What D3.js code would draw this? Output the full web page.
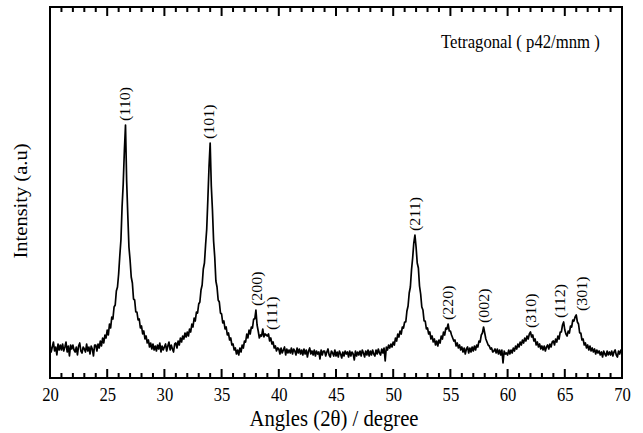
<!DOCTYPE html>
<html><head><meta charset="utf-8">
<script src="https://cdn.jsdelivr.net/npm/d3@7"></script>
<style>html,body{margin:0;padding:0;background:#fff;} svg{display:block;}</style>
</head><body><svg id="c" width="643" height="433"></svg>
<script>
// ---- data ----
const angleStart = 20, angleStep = 0.1;   // 2θ scan grid (degrees)
const intensity = [
  33,26,31,36,27,31,23,34,28,33,   // 20
  28,34,27,31,36,26,32,22,33,29,   // 21
  33,28,26,31,23,32,35,27,25,31,   // 22
  29,26,34,27,31,24,32,29,22,33,   // 23
  33,27,34,30,37,32,40,35,43,40,   // 24
  48,43,54,50,61,59,71,73,87,91,   // 25
  104,122,138,171,194,227,253,197,163,131, // 26
  118,101,95,79,78,66,66,58,59,50, // 27
  52,44,47,39,42,35,38,31,35,29,   // 28
  34,28,32,27,33,29,35,26,32,28,   // 29
  31,34,27,32,36,28,33,29,26,34,   // 30
  35,30,37,33,40,36,42,39,45,41,   // 31
  46,42,49,46,54,51,60,57,66,65,   // 32
  74,76,88,93,109,115,133,149,179,211, // 33
  235,192,168,137,121,97,91,78,76,65,  // 34
  64,55,57,49,51,43,45,38,40,33,   // 35
  34,28,30,24,28,23,30,26,33,30,   // 36
  37,36,44,40,48,44,51,50,59,59,   // 37
  68,53,47,40,43,42,49,41,44,43,   // 38
  42,44,37,40,34,36,30,32,27,30,   // 39
  29,24,30,25,28,31,23,29,25,28,   // 40
  25,30,24,29,27,23,30,25,29,24,   // 41
  28,23,29,24,28,21,27,30,24,27,   // 42
  23,28,22,27,24,26,19,28,23,27,   // 43
  27,22,26,29,23,21,27,25,22,28,   // 44
  22,26,21,27,24,20,26,22,27,24,   // 45
  26,21,27,22,26,24,18,27,22,26,   // 46
  23,27,22,28,25,21,27,23,28,22,   // 47
  27,23,28,24,22,28,24,29,25,23,   // 48
  29,25,30,17,31,28,33,30,34,31,   // 49
  36,33,40,37,44,41,47,44,51,50,   // 50
  56,56,67,72,85,91,108,120,135,143, // 51
  131,115,110,92,84,71,68,57,57,49,  // 52
  50,44,46,39,42,36,39,33,37,32,   // 53
  38,35,42,39,46,43,50,49,54,47,   // 54
  47,43,40,37,38,32,35,30,33,28,   // 55
  31,26,30,24,29,31,25,30,26,31,   // 56
  27,32,28,33,31,37,36,43,45,51,   // 57
  45,39,36,33,32,29,30,26,27,29,   // 58
  25,29,24,28,23,28,15,27,24,25,   // 59
  23,28,24,28,25,30,27,32,29,34,   // 60
  31,36,33,38,35,40,37,42,39,44,   // 61
  46,41,43,37,39,33,36,31,34,29,   // 62
  32,28,32,27,31,33,29,34,31,36,   // 63
  37,33,39,36,42,39,46,46,53,56,   // 64
  48,44,42,47,45,52,51,58,57,61,   // 65
  63,56,54,45,45,38,39,33,35,30,   // 66
  33,28,32,27,30,26,29,24,28,25,   // 67
  27,23,26,21,27,24,22,27,23,26,   // 68
  23,27,22,26,28,23,21,27,24,28,   // 69
  27                               // 70
];
const peakLabels = ["(110)","(101)","(200)","(111)","(211)","(220)","(002)","(310)","(112)","(301)"];
const peakAngles = [26.56, 33.93, 38.07, 39.4, 51.9, 54.8, 57.94, 62.0, 64.58, 66.47];
const majorTicks = [20,25,30,35,40,45,50,55,60,65,70];
const minorTicks = d3.range(20, 71, 1);
const phaseNote = "Tetragonal ( p42/mnm )";
const xTitle = "Angles (2\u03B8) / degree";
const yTitle = "Intensity (a.u)";

// ---- drawing ----
const svg = d3.select("#c");
const L = 50, R = 622, T = 7, B = 378;
const FONT = "'Liberation Serif','Times New Roman',serif";
const x = d3.scaleLinear().domain([20, 70]).range([L, R]);
const y = d3.scaleLinear().domain([0, 371]).range([B, T]);

const pts = intensity.map((v, i) => [angleStart + i * angleStep, v]);

// curve
svg.append("path")
  .datum(pts)
  .attr("fill", "none")
  .attr("stroke", "#000")
  .attr("stroke-width", 1.7)
  .attr("stroke-linejoin", "round")
  .attr("d", d3.line().x(d => x(d[0])).y(d => y(d[1])));

// inward tick marks on bottom and top edges
function tickMarks(vals, len) {
  const g = svg.append("g").attr("stroke", "#000").attr("stroke-width", 2);
  g.selectAll("line.b").data(vals).join("line").attr("class", "b")
    .attr("x1", d => x(d)).attr("x2", d => x(d))
    .attr("y1", B).attr("y2", B - len);
  g.selectAll("line.t").data(vals).join("line").attr("class", "t")
    .attr("x1", d => x(d)).attr("x2", d => x(d))
    .attr("y1", T).attr("y2", T + len);
}
tickMarks(minorTicks.filter(v => !majorTicks.includes(v)), 5);
tickMarks(majorTicks, 9);

// bottom axis labels
const bx = svg.append("g").attr("transform", `translate(0,${B})`)
  .call(d3.axisBottom(x).tickValues(majorTicks).tickSize(0).tickFormat(d3.format("d")));
bx.select(".domain").remove();
bx.selectAll("line").remove();
bx.selectAll("text").attr("font-family", FONT).attr("font-size", 18.5)
  .attr("fill", "#000").attr("dy", null).attr("y", null)
  .attr("transform", "translate(0,22.5) scale(0.9,1)");

// frame
svg.append("rect").attr("x", L).attr("y", T).attr("width", R - L).attr("height", B - T)
  .attr("fill", "none").attr("stroke", "#000").attr("stroke-width", 2);

// peak labels
peakAngles.forEach((a, k) => {
  const near = pts.filter(p => Math.abs(p[0] - a) <= 0.5);
  const top = d3.max(near, p => p[1]);
  const yb = y(top) - 4;
  svg.append("text")
    .attr("transform", `translate(${x(a)},${yb}) rotate(-90) scale(1,0.9)`)
    .attr("dy", "0.35em")
    .attr("font-family", FONT).attr("font-size", 16)
    .attr("fill", "#000")
    .text(peakLabels[k]);
});

// phase note
svg.append("text")
  .attr("transform", "translate(441,48) scale(0.88,1)")
  .attr("font-family", FONT).attr("font-size", 19).attr("fill", "#000")
  .text(phaseNote);

// axis titles
svg.append("text")
  .attr("transform", "translate(334,426) scale(0.9,1)")
  .attr("text-anchor", "middle")
  .attr("font-family", FONT).attr("font-size", 23).attr("fill", "#000")
  .text(xTitle);
svg.append("text")
  .attr("transform", "translate(27,201) rotate(-90) scale(1,0.88)")
  .attr("text-anchor", "middle")
  .attr("font-family", FONT).attr("font-size", 20.5).attr("fill", "#000")
  .text(yTitle);
</script>
</body></html>
